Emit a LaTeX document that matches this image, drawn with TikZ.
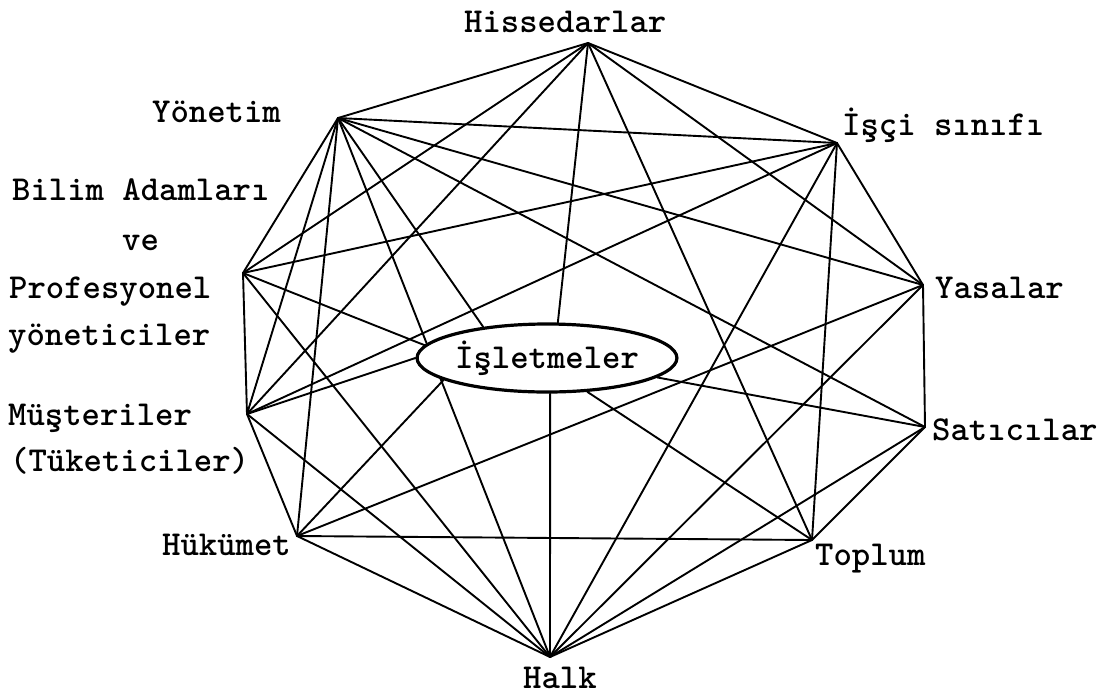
\documentclass[tikz,border=0pt]{standalone}
\usepackage{fontspec}
\usetikzlibrary{shapes.geometric,backgrounds}
\tikzset{
  tw/.style={font=\ttfamily\bfseries\fontsize{35}{40}\selectfont},
  lbl/.style={tw, inner sep=0pt, anchor=base west},
  edge/.style={line width=1.9pt, line cap=round},
  hub/.style={ellipse, draw, line width=3.2pt, fill=white, minimum width=244pt, minimum height=68pt, inner sep=0pt, tw}
}
\begin{document}
\begin{tikzpicture}[x=1pt,y=-1pt]
\useasboundingbox (0,0) rectangle (1116,697);
\coordinate (H) at (588,43);
\coordinate (Y) at (338,118);
\coordinate (I) at (837,143);
\coordinate (B) at (243,273);
\coordinate (Ya) at (923,285);
\coordinate (M) at (247,414);
\coordinate (S) at (925,427);
\coordinate (Hu) at (297,536);
\coordinate (T) at (812,540);
\coordinate (Ha) at (550,657);
\node[hub] (isl) at (547,358) {İşletmeler};
\begin{scope}[on background layer]
\foreach \a/\b in {H/Y,H/B,H/M,H/T,H/Ya,H/I,
  Y/I,Y/Ya,Y/S,Y/Ha,Y/Hu,Y/M,Y/B,
  I/B,I/M,I/Ha,I/T,I/Ya,
  Ya/S,Ya/Hu,Ya/Ha,
  S/Ha,S/T,
  T/Ha,T/Hu,
  Ha/Hu,Ha/M,Ha/B,
  Hu/M,B/M}
  \draw[edge] (\a) -- (\b);
\foreach \a/\ang in {H/73,Y/154,B/174,M/180,Hu/192,Ha/-85,T/-40,S/-10}
  \draw[edge] (\a) -- (isl.\ang);
\end{scope}
\node[lbl] (tH) at (464,32) {Hissedarlar};
\node[lbl] (tY) at (152,122) {Yönetim};
\node[lbl] (tI) at (842,135) {İşçi sınıfı};
\node[lbl] (tB1) at (12,200) {Bilim Adamları};
\node[lbl] (tB2) at (122,250) {ve};
\node[lbl] (tB3) at (9,298) {Profesyonel};
\node[lbl] (tB4) at (8,345) {yöneticiler};
\node[lbl] (tM1) at (8,425) {Müşteriler};
\node[lbl] (tM2) at (10,471) {(Tüketiciler)};
\node[lbl] (tYa) at (935,298) {Yasalar};
\node[lbl] (tS) at (932,440) {Satıcılar};
\node[lbl] (tHu) at (162,555) {Hükümet};
\node[lbl] (tT) at (815,565) {Toplum};
\node[lbl] (tHa) at (523,688) {Halk};
\end{tikzpicture}
\end{document}
